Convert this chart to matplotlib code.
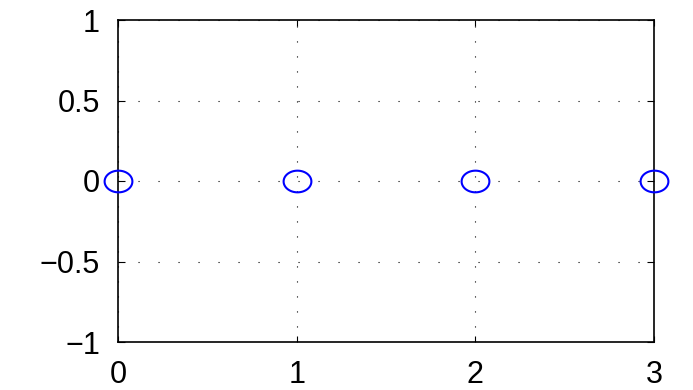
import numpy as np
import matplotlib
matplotlib.use("Agg")
import matplotlib.pyplot as plt
from matplotlib.path import Path

x_values = [0, 1, 2, 3]
y_values = [0, 0, 0, 0]
x_ticks = [0, 1, 2, 3]
y_ticks = [-1, -0.5, 0, 0.5, 1]
x_labels = ["0", "1", "2", "3"]
y_labels = ["\u22121", "\u22120.5", "0", "0.5", "1"]

plt.rcParams["font.family"] = ["Liberation Sans", "DejaVu Sans"]

fig = plt.figure(figsize=(6.93, 3.90), dpi=100)
ax = fig.add_axes([118 / 693, 1 - 342 / 390, (654 - 118) / 693, (342 - 20) / 390])

# slightly flattened circle marker
t = np.linspace(0, 2 * np.pi, 80)
ellipse = Path(np.column_stack([np.cos(t), 0.78 * np.sin(t)]), closed=True)

ax.plot(x_values, y_values, linestyle="none", marker=ellipse, markersize=20,
        markerfacecolor="none", markeredgecolor="#0000ff", markeredgewidth=1.5,
        clip_on=False, zorder=5)

ax.set_xlim(0, 3)
ax.set_ylim(-1, 1)
ax.set_xticks(x_ticks)
ax.set_xticklabels(x_labels)
ax.set_yticks(y_ticks)
ax.set_yticklabels(y_labels)
ax.tick_params(direction="in", length=4, width=0.8, labelsize=22,
               top=True, right=True, colors="black")
ax.tick_params(axis="y", pad=13, length=5)
ax.tick_params(axis="x", pad=13)

# dotted grid: wider dot spacing along horizontal lines
ax.grid(True, axis="y", color="black", linestyle=(0, (1, 17)), linewidth=0.8)
ax.grid(True, axis="x", color="black", linestyle=(0, (1, 12.5)), linewidth=0.8)
for s in ax.spines.values():
    s.set_linewidth(1.2)
    s.set_color("black")

fig.savefig("out.png", dpi=100)
